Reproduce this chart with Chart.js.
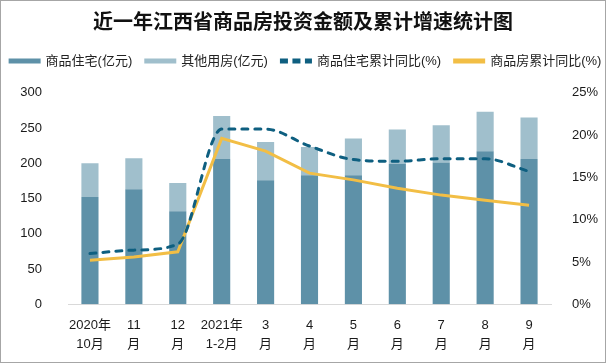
<!DOCTYPE html>
<html><head><meta charset="utf-8">
<script src="https://cdn.jsdelivr.net/npm/chart.js@4.4.1/dist/chart.umd.min.js"></script>
<style>
html,body{margin:0;padding:0;background:#fff;}
#wrap{position:relative;width:606px;height:363px;}
#frame{position:absolute;left:0;top:0;width:606px;height:363px;box-sizing:border-box;border:1px solid #a6a6a6;pointer-events:none;}
canvas{display:block;}
</style></head><body>
<div id="wrap"><canvas id="c" width="606" height="363"></canvas><div id="frame"></div></div>
<script>
const titleText = '近一年江西省商品房投资金额及累计增速统计图';
const categories = [['2020年','10月'],['11','月'],['12','月'],['2021年','1-2月'],['3','月'],['4','月'],['5','月'],['6','月'],['7','月'],['8','月'],['9','月']];
const seriesNames = ['商品住宅(亿元)','其他用房(亿元)','商品住宅累计同比(%)','商品房累计同比(%)'];
const residentialInvest = [152,163,132,206,176,183,183,199,201,217,206];
const otherInvest = [48,44,40,61,54,40,52,49,53,56,59];
const residentialGrowth = [6.0,6.4,7.1,20.7,20.7,18.7,17.1,16.9,17.2,17.2,15.7];
const totalGrowth = [5.2,5.6,6.2,19.6,18.1,15.5,14.7,13.7,12.9,12.3,11.7];
const leftTicks = [0,50,100,150,200,250,300];
const rightTicks = [0,5,10,15,20,25];

const FONT = '"Liberation Sans", "Noto Sans CJK SC", sans-serif';
const C_RES = '#5e91a8', C_OTH = '#a0bfcc', C_DASH = '#0e5f80', C_GOLD = '#f2be45';

const customLegend = {
  id:'customLegend',
  afterDraw(chart){
    const ctx = chart.ctx;
    ctx.save();
    ctx.font = '13px ' + FONT;
    const sw = 32, gapT = 5, gapI = 12, y = 61;
    const items = chart.data.datasets.map(ds=>({text:ds.label, color:ds.legendColor, dashed:!!ds.borderDash}));
    const widths = items.map(it=>ctx.measureText(it.text).width);
    const total = widths.reduce((a,w)=>a+sw+gapT+w,0) + gapI*(items.length-1);
    let x = 305 - total/2;
    items.forEach((it,i)=>{
      ctx.beginPath();
      ctx.setLineDash(it.dashed ? [8,4.5] : []);
      ctx.lineWidth = 5; ctx.lineCap = 'butt'; ctx.strokeStyle = it.color;
      ctx.moveTo(x, y); ctx.lineTo(x+sw, y); ctx.stroke();
      ctx.setLineDash([]);
      ctx.fillStyle = '#222'; ctx.textBaseline = 'middle'; ctx.textAlign = 'left';
      ctx.fillText(it.text, x+sw+gapT, y);
      x += sw + gapT + widths[i] + gapI;
    });
    ctx.restore();
  }
};

new Chart(document.getElementById('c'), {
  data: {
    labels: categories,
    datasets: [
      {type:'bar', label: seriesNames[0], data: residentialInvest, backgroundColor: C_RES, stack:'s', yAxisID:'y', order:2, legendColor:C_RES},
      {type:'bar', label: seriesNames[1], data: otherInvest, backgroundColor: C_OTH, stack:'s', yAxisID:'y', order:2, legendColor:C_OTH},
      {type:'line', label: seriesNames[2], data: residentialGrowth, borderColor: C_DASH, borderWidth:3, borderDash:[6,7], borderCapStyle:'round', pointRadius:0, cubicInterpolationMode:'monotone', yAxisID:'y1', order:1, legendColor:C_DASH},
      {type:'line', label: seriesNames[3], data: totalGrowth, borderColor: C_GOLD, borderWidth:3, pointRadius:0, tension:0, yAxisID:'y1', order:1, legendColor:C_GOLD}
    ]
  },
  plugins:[customLegend],
  options: {
    responsive:false, devicePixelRatio:1, animation:false,
    layout:{padding:{left:0,right:0,top:0,bottom:0}},
    datasets:{bar:{categoryPercentage:1, barPercentage:0.39}},
    plugins:{
      title:{display:true, text:titleText, color:'#111', font:{family:'"Noto Sans CJK SC", sans-serif', size:20, weight:'bold', lineHeight:1.2}, padding:{top:9, bottom:59.7}},
      legend:{display:false},
      tooltip:{enabled:false}
    },
    scales:{
      x:{stacked:true, grid:{display:false}, border:{display:true,color:'#d9d9d9',width:1},
        ticks:{color:'#1a1a1a', font:{family:FONT, size:13, lineHeight:1.45}, padding:4, maxRotation:0, autoSkip:false},
        afterFit:(s)=>{s.height=58.7;}},
      y:{stacked:true, position:'left', min:0, max:300, grid:{display:false}, border:{display:false},
        ticks:{stepSize:50, color:'#1a1a1a', font:{family:FONT, size:13}, padding:18},
        afterBuildTicks:(s)=>{s.ticks=leftTicks.map(v=>({value:v}));},
        afterFit:(s)=>{s.width=68;}},
      y1:{position:'right', min:0, max:25, grid:{display:false}, border:{display:false},
        ticks:{stepSize:5, color:'#1a1a1a', font:{family:FONT, size:13}, padding:13, callback:(v)=>v+'%'},
        afterBuildTicks:(s)=>{s.ticks=rightTicks.map(v=>({value:v}));},
        afterFit:(s)=>{s.width=55;}}
    }
  }
});
</script>
</body></html>
